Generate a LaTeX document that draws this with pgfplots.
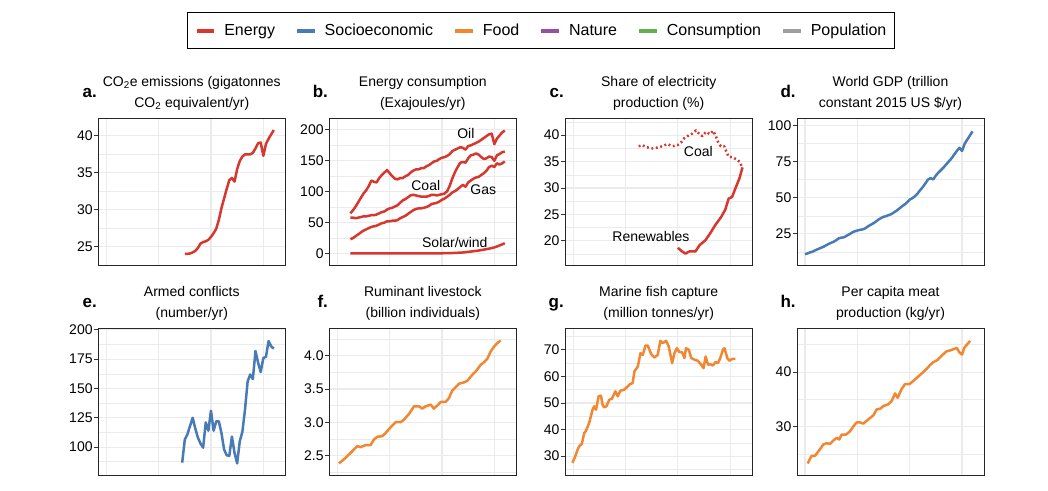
\documentclass[border=0pt]{standalone}
\usepackage{fontspec}
\setmainfont{Liberation Sans}
\usepackage{pgfplots}
\pgfplotsset{compat=1.18}
\definecolor{cEnergy}{RGB}{214,55,46}
\definecolor{cSocio}{RGB}{72,122,182}
\definecolor{cFood}{RGB}{242,135,50}
\definecolor{cNature}{RGB}{150,80,163}
\definecolor{cCons}{RGB}{100,176,80}
\definecolor{cPop}{RGB}{158,158,158}
\definecolor{gridc}{RGB}{235,235,235}
\newcommand\titlefont{\fontsize{14}{17}\selectfont}
\newcommand\letterfont{\fontsize{17}{20}\selectfont\bfseries}
\pgfplotsset{
  panel/.style={
    scale only axis, width=187pt, height=147pt,
    anchor=south west,
    xmin=1956.94, xmax=2028.4,
    xtick={1960,1980,2000,2020}, xticklabels={},
    ytick pos=left, xtick pos=bottom,
    xmajorgrids=true, ymajorgrids=true, yminorgrids=true,
    major grid style={draw=gridc, line width=1.1pt},
    minor grid style={draw=gridc, line width=0.55pt},
    axis line style={draw=black!85, line width=0.9pt},
    tick align=outside,
    major tick length=4pt, minor tick length=0pt,
    every y tick/.append style={draw=black!80, line width=0.9pt},
    every x tick/.append style={draw=none},
    tick label style={font=\fontsize{14}{16}\selectfont, text=black},
    yticklabel style={inner xsep=1.5pt, /pgf/number format/assume math mode=true},
    every axis plot/.append style={line width=2.5pt, line join=round},
  }
}
\begin{document}
\begin{tikzpicture}
\path[use as bounding box, fill=white] (0pt,0pt) rectangle (1048pt,490pt);

% ---------- a ----------
\begin{axis}[panel, name=pa, at={(98.3pt,224.8pt)},
  ymin=22.46, ymax=42.4, ytick={25,30,35,40}, minor ytick={27.5,32.5,37.5},
  legend style={at={(axis description cs:2.3674,1.5952)}, anchor=center,
    draw=black, line width=0.9pt, font=\fontsize{16}{19}\selectfont,
    inner xsep=7pt, inner ysep=10.5pt, nodes={inner sep=1pt},
    /tikz/every odd column/.append style={column sep=7pt},
    /tikz/every even column/.append style={column sep=19pt}},
  legend columns=6,
  legend image code/.code={\draw[#1, line width=4pt] (0pt,0pt) -- (17.7pt,0pt);}]
\addlegendimage{cEnergy}\addlegendentry{Energy}
\addlegendimage{cSocio}\addlegendentry{Socioeconomic}
\addlegendimage{cFood}\addlegendentry{Food}
\addlegendimage{cNature}\addlegendentry{Nature}
\addlegendimage{cCons}\addlegendentry{Consumption}
\addlegendimage{cPop}\addlegendentry{Population}
\addplot[cEnergy, forget plot] coordinates {
(1990,24.0)(1991,24.0)(1992,24.05)(1993,24.2)(1994,24.4)(1995,24.8)(1996,25.4)(1997,25.6)(1998,25.7)(1999,25.9)(2000,26.3)(2001,26.8)(2002,27.4)(2003,28.6)(2004,30.2)(2005,31.5)(2006,32.8)(2007,34.0)(2008,34.3)(2009,33.8)(2010,35.5)(2011,36.6)(2012,37.2)(2013,37.5)(2014,37.5)(2015,37.5)(2016,37.7)(2017,38.3)(2018,39.0)(2019,39.1)(2020,37.3)(2021,38.9)(2022,39.6)(2023,40.2)(2024,40.8)};
\end{axis}

% ---------- b ----------
\begin{axis}[panel, name=pb, at={(329.3pt,224.8pt)},
  ymin=-19, ymax=219, ytick={0,50,100,150,200}, minor ytick={25,75,125,175}]
\addplot[cEnergy] coordinates {
(1965,65)(1966,70)(1967,76)(1968,83)(1969,90)(1970,97)(1971,102)(1972,109)(1973,118)(1974,116)(1975,115)(1976,122)(1977,127)(1978,131)(1979,135)(1980,130)(1981,125)(1982,121)(1983,120)(1984,122)(1985,122)(1986,125)(1987,127)(1988,131)(1989,134)(1990,136)(1991,136)(1992,138)(1993,138)(1994,141)(1995,143)(1996,146)(1997,149)(1998,150)(1999,153)(2000,155)(2001,156)(2002,158)(2003,161)(2004,166)(2005,168)(2006,170)(2007,172)(2008,171)(2009,168)(2010,174)(2011,175)(2012,177)(2013,179)(2014,181)(2015,184)(2016,187)(2017,190)(2018,193)(2019,194)(2020,177)(2021,186)(2022,191)(2023,196)(2024,199)};
\addplot[cEnergy] coordinates {
(1965,58)(1966,58)(1967,57)(1968,58)(1969,59)(1970,60)(1971,60)(1972,61)(1973,62)(1974,62)(1975,63)(1976,65)(1977,67)(1978,68)(1979,71)(1980,73)(1981,74)(1982,76)(1983,78)(1984,82)(1985,86)(1986,88)(1987,91)(1988,94)(1989,95)(1990,94)(1991,93)(1992,92)(1993,92)(1994,92)(1995,93)(1996,95)(1997,95)(1998,94)(1999,95)(2000,96)(2001,97)(2002,101)(2003,110)(2004,122)(2005,132)(2006,140)(2007,147)(2008,148)(2009,147)(2010,154)(2011,159)(2012,160)(2013,162)(2014,160)(2015,156)(2016,153)(2017,154)(2018,157)(2019,156)(2020,150)(2021,159)(2022,161)(2023,164)(2024,165)};
\addplot[cEnergy] coordinates {
(1965,23)(1966,25)(1967,28)(1968,31)(1969,34)(1970,37)(1971,39)(1972,41)(1973,43)(1974,44)(1975,45)(1976,47)(1977,49)(1978,50)(1979,52)(1980,52)(1981,53)(1982,53)(1983,54)(1984,57)(1985,59)(1986,61)(1987,64)(1988,67)(1989,70)(1990,72)(1991,73)(1992,73)(1993,74)(1994,75)(1995,77)(1996,80)(1997,81)(1998,82)(1999,84)(2000,87)(2001,89)(2002,92)(2003,95)(2004,99)(2005,101)(2006,104)(2007,108)(2008,111)(2009,108)(2010,115)(2011,118)(2012,121)(2013,123)(2014,124)(2015,127)(2016,130)(2017,134)(2018,140)(2019,142)(2020,140)(2021,146)(2022,144)(2023,146)(2024,149)};
\addplot[cEnergy] coordinates {
(1965,0)(1975,0)(1985,0)(1995,0.05)(2000,0.3)(2003,0.6)(2005,0.9)(2008,1.6)(2010,2.6)(2012,3.6)(2014,4.7)(2016,6.2)(2018,7.8)(2019,8.7)(2020,9.8)(2021,11.3)(2022,13.0)(2023,14.8)(2024,16.5)};
\node[font=\titlefont, anchor=base, inner sep=0pt] at (axis cs:2009.1,186.5) {Oil};
\node[font=\titlefont, anchor=base, inner sep=0pt] at (axis cs:1993.8,101.6) {Coal};
\node[font=\titlefont, anchor=base, inner sep=0pt] at (axis cs:2015.75,95.8) {Gas};
\node[font=\titlefont, anchor=base, inner sep=0pt] at (axis cs:2004.9,9.7) {Solar/wind};
\end{axis}

% ---------- c ----------
\begin{axis}[panel, name=pc, at={(565.2pt,224.8pt)},
  ymin=15.4, ymax=43.2, ytick={20,25,30,35,40}, minor ytick={17.5,22.5,27.5,32.5,37.5,42.5}]
\addplot[cEnergy, dash pattern=on 1.9pt off 2.6pt] coordinates {
(1985,37.9)(1986.5,38.1)(1988,37.7)(1990.3,37.5)(1992.9,37.7)(1994.5,38.0)(1996,38.3)(1998,37.9)(1999.9,38.1)(2001.2,38.6)(2002.4,39.4)(2004.3,40.0)(2005.5,40.3)(2006.9,40.9)(2008.2,40.2)(2009.4,39.8)(2010.7,40.6)(2012.2,40.2)(2013.5,40.8)(2014.5,39.8)(2015.5,38.5)(2016.4,37.9)(2017.7,37.9)(2018.5,36.9)(2019.4,35.9)(2020.9,35.8)(2022.8,35.3)(2023.8,34.8)(2024.5,33.9)};
\addplot[cEnergy] coordinates {
(2000,18.7)(2001.3,18.1)(2002.9,17.6)(2004.4,18.0)(2006.7,18.0)(2008.3,19.2)(2010.5,20.1)(2012.3,21.4)(2014.3,23.0)(2016.5,24.5)(2018.1,25.9)(2019.4,28.0)(2020.7,28.3)(2022.2,30.2)(2023.5,31.8)(2024.7,33.9)};
\node[font=\titlefont, anchor=base, inner sep=0pt] at (axis cs:2007.8,36.0) {Coal};
\node[font=\titlefont, anchor=base, inner sep=0pt] at (axis cs:1989.7,19.8) {Renewables};
\end{axis}

% ---------- d ----------
\begin{axis}[panel, name=pd, at={(797pt,224.8pt)},
  ymin=3.3, ymax=105.1, ytick={25,50,75,100}, minor ytick={12.5,37.5,62.5,87.5}]
\addplot[cSocio] coordinates {
(1960,10.9)(1961,11.5)(1962,12.2)(1963,12.8)(1964,13.7)(1965,14.5)(1966,15.3)(1967,16.0)(1968,17.0)(1969,18.0)(1970,18.8)(1971,19.6)(1972,20.7)(1973,22.0)(1974,22.4)(1975,22.7)(1976,23.8)(1977,24.8)(1978,25.9)(1979,26.8)(1980,27.3)(1981,27.8)(1982,28.1)(1983,28.8)(1984,30.1)(1985,31.2)(1986,32.2)(1987,33.4)(1988,34.8)(1989,35.9)(1990,36.8)(1991,37.3)(1992,38.0)(1993,38.7)(1994,39.9)(1995,41.1)(1996,42.5)(1997,44.0)(1998,45.2)(1999,46.8)(2000,48.7)(2001,49.7)(2002,51.0)(2003,52.9)(2004,55.3)(2005,57.4)(2006,60.0)(2007,62.6)(2008,63.6)(2009,62.7)(2010,65.4)(2011,67.5)(2012,69.3)(2013,71.1)(2014,73.2)(2015,75.3)(2016,77.3)(2017,79.9)(2018,82.4)(2019,84.6)(2020,82.4)(2021,87.4)(2022,90.3)(2023,93.1)(2024,96.0)};
\end{axis}

% ---------- e ----------
\begin{axis}[panel, name=pe, at={(98.3pt,14.7pt)},
  ymin=75.9, ymax=201.4, ytick={100,125,150,175,200}, minor ytick={87.5,112.5,137.5,162.5,187.5}]
\addplot[cSocio] coordinates {
(1989,86.7)(1990,106.5)(1991,111)(1992,118)(1993,125)(1994,116)(1995,108)(1996,103)(1997,99.5)(1998,121)(1999,114)(2000,131)(2001,114)(2002,122)(2003,122)(2004,112)(2005,98)(2006,93)(2007,92.5)(2008,109)(2009,95)(2010,86)(2011,105)(2012,113)(2013,132)(2014,156)(2015,162)(2016,158)(2017,182)(2018,172)(2019,164)(2020,176)(2021,177)(2022,190.5)(2023,186)(2024,184)};
\end{axis}

% ---------- f ----------
\begin{axis}[panel, name=pf, at={(329.3pt,14.7pt)},
  ymin=2.2, ymax=4.415, ytick={2.5,3.0,3.5,4.0}, minor ytick={2.25,2.75,3.25,3.75,4.25},
  yticklabel style={/pgf/number format/.cd, fixed, fixed zerofill, precision=1}]
\addplot[cFood] coordinates {
(1960.6,2.38)(1962.5,2.44)(1964.5,2.515)(1966.4,2.59)(1967.6,2.64)(1968.9,2.625)(1970.8,2.655)(1972.7,2.655)(1974.0,2.74)(1975.3,2.78)(1977.2,2.79)(1978.5,2.84)(1980.4,2.925)(1982.3,3.0)(1984.2,3.0)(1985.5,3.04)(1987.4,3.125)(1989.3,3.24)(1991.2,3.24)(1992.5,3.205)(1993.8,3.24)(1995.7,3.265)(1996.9,3.205)(1998.2,3.25)(1999.5,3.305)(2001.4,3.305)(2002.7,3.365)(2003.9,3.475)(2005.2,3.525)(2006.5,3.58)(2008.4,3.6)(2009.7,3.625)(2011.6,3.715)(2012.9,3.765)(2014.8,3.865)(2016.1,3.905)(2017.3,3.955)(2018.6,4.065)(2019.9,4.14)(2021.1,4.19)(2022.4,4.23)};
\end{axis}

% ---------- g ----------
\begin{axis}[panel, name=pg, at={(565.2pt,14.7pt)},
  ymin=22.8, ymax=78.1, ytick={30,40,50,60,70}, minor ytick={25,35,45,55,65,75}]
\addplot[cFood] coordinates {
(1959.7,27.5)(1960.8,30)(1961.7,32.5)(1962.5,34)(1963.3,34.6)(1964.2,38.75)(1964.8,39.4)(1966.1,42.5)(1967.4,47.5)(1968,48.75)(1968.7,47.5)(1969.7,52.5)(1970.6,52.75)(1971.2,49.4)(1971.8,48.4)(1972.7,48.75)(1973.8,51.25)(1974.8,51.6)(1976.1,54.4)(1977,52.5)(1978,54.6)(1979.5,55)(1980.8,56.25)(1981.7,57.1)(1982.7,57.5)(1983.4,61.9)(1984.7,63.75)(1985.7,68.75)(1986.6,68.1)(1987.6,71.6)(1988.5,71.6)(1989.8,68.4)(1991,67.1)(1992.3,68.1)(1993.3,73.4)(1994.2,72.5)(1995.5,73.4)(1996.5,71.25)(1997.8,65)(1998.7,68.75)(1999.6,70.6)(2000.6,69.1)(2001.6,69.1)(2002.5,66.9)(2003.1,70.6)(2004.2,70)(2005.1,66.9)(2006.4,66.25)(2007.6,65.9)(2008.9,64.4)(2009.8,63.1)(2010.6,67.5)(2011.5,64.4)(2012.4,64.6)(2013.4,64.1)(2014.4,65.4)(2015.3,65)(2016.2,66.9)(2017.2,70)(2017.8,70.6)(2018.9,66.9)(2019.7,65.9)(2020.8,66.6)(2022,66.6)};
\end{axis}

% ---------- h ----------
\begin{axis}[panel, name=ph, at={(797pt,14.7pt)},
  ymin=21.15, ymax=48, ytick={30,40}, minor ytick={25,35,45}]
\addplot[cFood] coordinates {
(1961,23.3)(1962.5,24.7)(1963.8,24.7)(1965.7,25.9)(1967,26.8)(1968.3,27.0)(1969.6,26.9)(1970.8,27.5)(1972.1,28.0)(1973.1,27.7)(1974,28.6)(1975.7,28.6)(1977.2,29.2)(1978.5,30.1)(1979.7,30.8)(1981,30.8)(1982.3,30.6)(1983.8,31.2)(1986.1,32.1)(1987.4,33.2)(1988.7,33.3)(1989.9,33.8)(1991.8,34.1)(1993.1,34.7)(1994.4,36.1)(1995.4,35.3)(1996.9,36.9)(1998.2,37.8)(1999.9,37.8)(2001.4,38.4)(2003.3,39.2)(2005.2,40.0)(2006.5,40.6)(2007.8,41.3)(2009,41.8)(2010.6,42.2)(2012.2,43.0)(2014.1,43.8)(2015.7,44.0)(2018,44.4)(2019,43.6)(2020,43.2)(2020.8,44.4)(2022,45.1)(2023.1,45.7)};
\end{axis}

% ---------- titles and panel letters ----------
\foreach \n/\l/\ta/\tb in {
  pa/a./{CO\textsubscript{2}e emissions (gigatonnes}/{CO\textsubscript{2} equivalent/yr)},
  pb/b./{Energy consumption}/{(Exajoules/yr)},
  pc/c./{Share of electricity}/{production (\%)},
  pd/d./{World GDP (trillion}/{constant 2015 US \$/yr)},
  pe/e./{Armed conflicts}/{(number/yr)},
  pf/f./{Ruminant livestock}/{(billion individuals)},
  pg/g./{Marine fish capture}/{(million tonnes/yr)},
  ph/h./{Per capita meat}/{production (kg/yr)}}{
  \node[font=\titlefont, anchor=base, inner sep=0pt] at ([yshift=32pt]\n.north) {\ta};
  \node[font=\titlefont, anchor=base, inner sep=0pt] at ([yshift=10.8pt]\n.north) {\tb};
  \node[font=\letterfont, anchor=base east, inner sep=0pt] at ([xshift=-1.2pt,yshift=20.5pt]\n.north west) {\l};
}
\end{tikzpicture}
\end{document}
